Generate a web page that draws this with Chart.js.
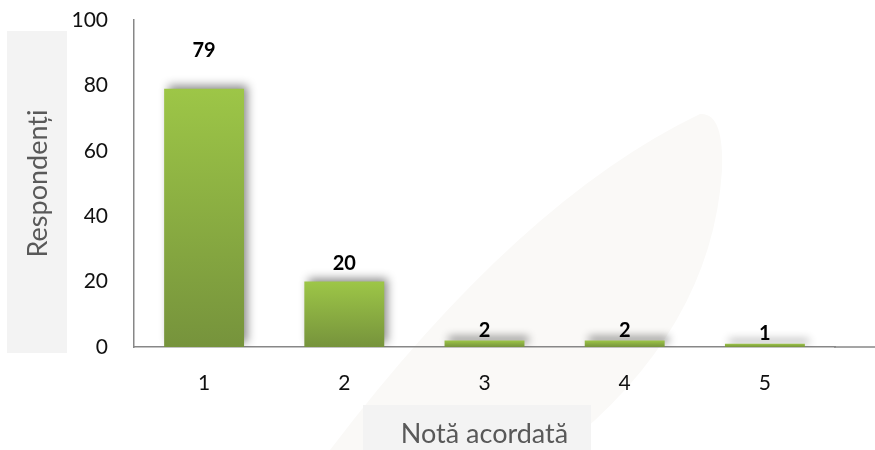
<!DOCTYPE html>
<html>
<head>
<meta charset="utf-8">
<script src="https://cdn.jsdelivr.net/npm/chart.js@4/dist/chart.umd.min.js"></script>
<style>
  html, body { margin: 0; padding: 0; background: #fff; }
  #wrap { width: 875px; height: 450px; position: relative; }
</style>
</head>
<body>
<div id="wrap"><canvas id="chartNote"></canvas></div>
<script>
const note = ['1', '2', '3', '4', '5']
const respondenti = [79, 20, 2, 2, 1]
const yTicks = [0, 20, 40, 60, 80, 100]

const axisColor = '#878787'
const fontFam = 'Lato, "Open Sans", sans-serif'

// gray panels behind the axis titles + faint watermark swoosh
const backdrop = {
    id: 'backdrop',
    beforeDraw: (chart) => {
        const ctx = chart.ctx
        ctx.save()
        ctx.fillStyle = '#faf9f7'
        ctx.beginPath()
        ctx.moveTo(330, 450)
        ctx.quadraticCurveTo(520, 200, 700, 114)
        ctx.quadraticCurveTo(724, 112, 722, 170)
        ctx.quadraticCurveTo(712, 330, 560, 450)
        ctx.closePath()
        ctx.fill()
        ctx.fillStyle = '#f3f3f3'
        ctx.fillRect(7, 31, 60, 322)
        ctx.fillRect(363, 405, 228, 45)
        ctx.restore()
    }
}

// soft shadow behind the bars
const barShadow = {
    id: 'barShadow',
    beforeDatasetDraw: (chart) => {
        const ctx = chart.ctx
        ctx.save()
        ctx.shadowColor = 'rgba(0,0,0,0.45)'
        ctx.shadowBlur = 9
        ctx.shadowOffsetX = 4
        ctx.shadowOffsetY = -4
    },
    afterDatasetDraw: (chart) => {
        chart.ctx.restore()
    }
}

// value labels above each bar, x axis line running to the edge
const valueLabels = {
    id: 'valueLabels',
    afterDraw: (chart, args, opts) => {
        const ctx = chart.ctx
        const meta = chart.getDatasetMeta(0)
        const area = chart.chartArea
        const base = chart.scales.y.getPixelForValue(0)
        ctx.save()
        ctx.strokeStyle = axisColor
        ctx.lineWidth = 1.5
        ctx.beginPath()
        ctx.moveTo(area.right - 1, base)
        ctx.lineTo(chart.width, base)
        ctx.stroke()

        ctx.font = 'bold 20px ' + fontFam
        ctx.fillStyle = '#000'
        ctx.textAlign = 'center'
        ctx.textBaseline = 'middle'
        meta.data.forEach((bar, i) => {
            ctx.fillText(String(respondenti[i]), bar.x, bar.y - opts.lift[i])
        })
        ctx.restore()
    }
}

const barGradient = (c) => {
    const chart = c.chart
    if (!chart.chartArea || !chart.scales.y) return '#8db33f'
    const y = chart.scales.y
    const top = y.getPixelForValue(c.raw)
    const bottom = y.getPixelForValue(0)
    const g = chart.ctx.createLinearGradient(0, top, 0, bottom + 0.01)
    g.addColorStop(0, '#9dc647')
    g.addColorStop(1, '#76933c')
    return g
}

let ctx = document.getElementById('chartNote')
let cfg = {
    type: 'bar',
    data: {
        labels: note,
        datasets: [
            {
                label: 'Respondenți',
                data: respondenti,
                backgroundColor: barGradient,
                borderWidth: 0,
                barPercentage: 0.57,
                categoryPercentage: 1
            }
        ]
    },
    plugins: [backdrop, barShadow, valueLabels],
    options: {
        responsive: true,
        maintainAspectRatio: false,
        animation: false,
        layout: { padding: { top: 0, right: 40, left: 0, bottom: 0 } },
        plugins: {
            legend: { display: false },
            tooltip: { enabled: false },
            valueLabels: { lift: [38, 18, 10, 10, 10] }
        },
        scales: {
            x: {
                grid: { display: false, drawTicks: false },
                border: { color: axisColor, width: 1.5 },
                ticks: { color: '#111', padding: 24, font: { family: fontFam, size: 21 } },
                title: {
                    display: true,
                    text: 'Notă acordată',
                    color: '#595959',
                    padding: { top: 0, bottom: 0 },
                    font: { family: fontFam, size: 27 }
                },
                afterFit: (scale) => { scale.height = 103 }
            },
            y: {
                min: 0,
                max: 100,
                afterBuildTicks: (scale) => {
                    scale.ticks = yTicks.map(v => ({ value: v }))
                },
                grid: { display: false, drawTicks: false },
                border: { color: axisColor, width: 1.5 },
                ticks: { color: '#111', padding: 26, font: { family: fontFam, size: 21 } },
                title: {
                    display: true,
                    text: 'Respondenți',
                    color: '#595959',
                    padding: { top: 22, bottom: 0 },
                    font: { family: fontFam, size: 27 }
                },
                afterFit: (scale) => {
                    scale.width = 134
                    scale.paddingTop = 20
                }
            }
        }
    }
}
let chartNote = new Chart(ctx, cfg)
</script>
</body>
</html>
